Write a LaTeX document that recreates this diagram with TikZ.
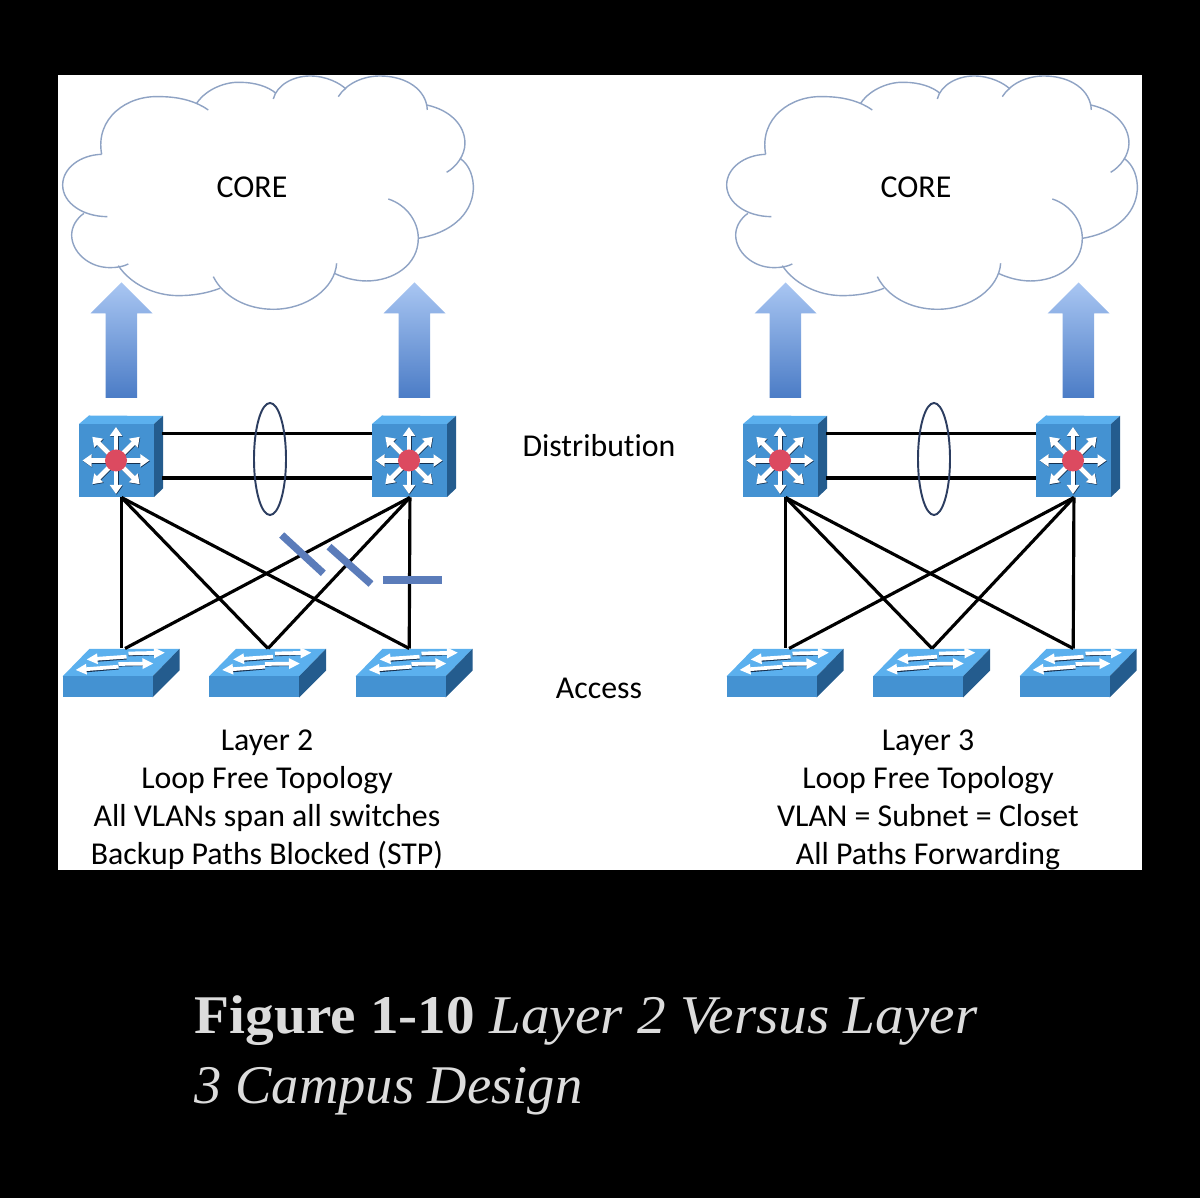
\documentclass[tikz,border=0pt]{standalone}
\usepackage{fontspec}
\usepackage{xcolor}
\setmainfont[Ligatures=NoCommon]{Carlito}
\newfontfamily\capfont[FakeStretch=1.05]{Liberation Serif}
\newfontfamily\capfontb{Liberation Serif}
\usetikzlibrary{arrows.meta,positioning,shapes.geometric}

\definecolor{swfront}{HTML}{4492D2}
\definecolor{swtop}{HTML}{5BB0EE}
\definecolor{swside}{HTML}{245C8E}
\definecolor{swdark}{HTML}{15304F}
\definecolor{barblue}{HTML}{5B7CBA}
\definecolor{ringblue}{HTML}{2C3D60}
\definecolor{cloudline}{HTML}{8FA3C4}
\definecolor{hotred}{HTML}{DC4A60}
\definecolor{capgray}{HTML}{DCDCDC}
\definecolor{arrowtop}{HTML}{A9C6F2}
\definecolor{arrowbot}{HTML}{4B7CC6}

\tikzset{
  link/.style={line width=0.9pt, black},
  cloudedge/.style={line width=0.4pt, cloudline, scale=0.3333},
  blockbar/.style={line width=2.1pt, barblue},
  lag/.style={draw=ringblue, line width=0.55pt, ellipse, minimum width=0.32cm, minimum height=1.12cm, inner sep=0pt},
  textlabel/.style={font=\fontsize{9.05}{10.8}\selectfont, align=center, black},
  spoke/.style={line width=1.35pt, white, -{Triangle[length=0.09cm,width=0.12cm]}},
  spokedark/.style={line width=1.35pt, swdark, -{Triangle[length=0.09cm,width=0.12cm]}},
  lane/.style={line width=1.05pt, white, -{Triangle[length=0.11cm,width=0.1cm]}},
  lanedark/.style={line width=0.45pt, swdark},
  pics/cloudpic/.style={code={
    \draw[cloudedge] (125,238) .. controls (105,130) and (200,60) .. (300,65) .. controls (360,65) and (410,80) .. (445,105);
    \draw[cloudedge] (410,85) .. controls (440,40) and (500,20) .. (540,22) .. controls (585,22) and (625,35) .. (648,55);
    \draw[cloudedge] (640,72) .. controls (650,30) and (700,3) .. (750,3) .. controls (800,3) and (840,25) .. (858,42);
    \draw[cloudedge] (835,65) .. controls (860,25) and (910,3) .. (960,3) .. controls (1040,3) and (1100,45) .. (1102,105);
    \draw[cloudedge] (1100,90) .. controls (1170,105) and (1215,150) .. (1215,205) .. controls (1215,240) and (1190,275) .. (1160,292);
    \draw[cloudedge] (1200,250) .. controls (1230,270) and (1242,310) .. (1240,345) .. controls (1235,420) and (1170,475) .. (1075,490);
    \draw[cloudedge] (985,372) .. controls (1040,390) and (1075,440) .. (1075,490) .. controls (1075,570) and (1000,618) .. (920,618) .. controls (885,618) and (850,608) .. (823,595);
    \draw[cloudedge] (830,565) .. controls (825,640) and (740,703) .. (640,703) .. controls (560,703) and (490,665) .. (460,605);
    \draw[cloudedge] (480,640) .. controls (440,655) and (400,662) .. (355,662) .. controls (280,662) and (210,625) .. (175,572);
    \draw[cloudedge] (205,567) .. controls (190,575) and (170,578) .. (150,578) .. controls (85,578) and (35,530) .. (35,480) .. controls (35,455) and (50,430) .. (72,415);
    \draw[cloudedge] (142,425) .. controls (70,425) and (8,385) .. (8,330) .. controls (8,280) and (60,240) .. (125,238);
  }},
  pics/uparrow/.style={code={
    \shade[top color=arrowtop, bottom color=arrowbot]
      (0,0) -- (31,31) -- (15.5,31) -- (15.5,115.5) -- (-16,115.5) -- (-16,31) -- (-31,31) -- cycle;
  }},
  pics/distsw/.style={code={
    \fill[swtop] (-37,-36.5) -- (-27,-45) -- (47,-44.5) -- (38,-36.5) -- cycle;
    \fill[swside] (38,-36.5) -- (47,-44.5) -- (47,28) -- (38,36.5) -- cycle;
    \fill[swfront] (-37,-36.5) rectangle (38,36.5);
    \foreach \a in {0,45,...,315} {
      \draw[spokedark] ([shift={(0.6,0.7)}]\a:10) -- ([shift={(0.6,0.7)}]\a:33.5);
      \draw[spoke] (\a:10) -- (\a:33.5);
    }
    \fill[hotred] (0,0) circle (11);
    \coordinate (-east1) at (46,-27);
    \coordinate (-east2) at (46,17.5);
    \coordinate (-west1) at (-37,-27);
    \coordinate (-west2) at (-37,17.5);
    \coordinate (-down) at (5.5,37);
  }},
  pics/accsw/.style={code={
    \fill[swtop] (0,0) -- (27,-27.7) -- (117,-27.7) -- (90,0) -- cycle;
    \fill[swside] (90,0) -- (117,-27.7) -- (117,-6) -- (90,21) -- cycle;
    \fill[swfront] (0,0) rectangle (90,21);
    \draw[lanedark] (64,-17.8) -- (34,-15.5);
    \draw[lanedark] (66,-21) -- (92,-22);
    \draw[lanedark] (56,-7.8) -- (23,-5);
    \draw[lanedark] (56,-10.7) -- (81,-11.3);
    \draw[lane] (64,-19.8) -- (24,-17);
    \draw[lane] (66,-23) -- (102.5,-23.8);
    \draw[lane] (56,-9.8) -- (13,-6.5);
    \draw[lane] (56,-12.5) -- (91,-13);
    \coordinate (-up) at (59,-28);
  }},
}

\begin{document}
\begin{tikzpicture}[x=0.01cm, y=-0.01cm]
  \useasboundingbox (0,0) rectangle (1200,1198);
  \fill[black] (0,0) rectangle (1200,1198);
  \fill[white] (58,75) rectangle (1142,870);

  \foreach \s/\x in {l/0, r/664} {
    \pic at (60+\x,75) {cloudpic};
    \node[textlabel] (core\s) at (252+\x,187) {CORE};
    \pic at (121.5+\x,282.5) {uparrow};
    \pic at (414.5+\x,282.5) {uparrow};

    \pic (dist\s a) at (116+\x,460.5) {distsw};
    \pic (dist\s b) at (409+\x,460.5) {distsw};
    \pic (acc\s a) at (62.5+\x,676.5) {accsw};
    \pic (acc\s b) at (209+\x,676.5) {accsw};
    \pic (acc\s c) at (355.5+\x,676.5) {accsw};

    \draw[link] (dist\s a-east1) -- (dist\s b-west1);
    \draw[link] (dist\s a-east2) -- (dist\s b-west2);
    \node[lag] (lag\s) at (270+\x,459) {};

    \draw[link] (dist\s a-down) -- (acc\s a-up);
    \draw[link] (dist\s a-down) -- (acc\s b-up);
    \draw[link] (dist\s a-down) -- ([xshift=-1.5pt]acc\s c-up);
    \draw[link] ([xshift=-1.3pt]dist\s b-down) -- ([xshift=1pt]acc\s a-up);
    \draw[link] ([xshift=-1.3pt]dist\s b-down) -- (acc\s b-up);
    \draw[link] ([xshift=-1.3pt]dist\s b-down) -- ([xshift=-1.5pt]acc\s c-up);
  }

  % blocked paths
  \draw[blockbar] (281.7,535) -- (323.3,573.3);
  \draw[blockbar] (329,546.7) -- (371,584);
  \draw[blockbar] (383.3,580) -- (442.3,580);

  \node[textlabel] (distlabel) at (599,446) {Distribution};
  \node[textlabel] (acclabel) at (599,688) {Access};
  \node[textlabel] (leftnote) at (267,800) {Layer 2\\Loop Free Topology\\All VLANs span all switches\\Backup Paths Blocked (STP)};
  \node[textlabel] (rightnote) at (928,800) {Layer 3\\Loop Free Topology\\VLAN = Subnet = Closet\\All Paths Forwarding};

  \node[anchor=west, align=left, inner sep=0pt, text=capgray, font=\capfont\fontsize{15.5}{19.9}\selectfont] (caption) at (194,1055)
    {\textbf{Figure \oldstylenums{1}-\oldstylenums{10}} \textit{Layer \oldstylenums{2} Versus Layer}\\\capfontb\textit{\oldstylenums{3} Campus Design}};
\end{tikzpicture}
\end{document}
